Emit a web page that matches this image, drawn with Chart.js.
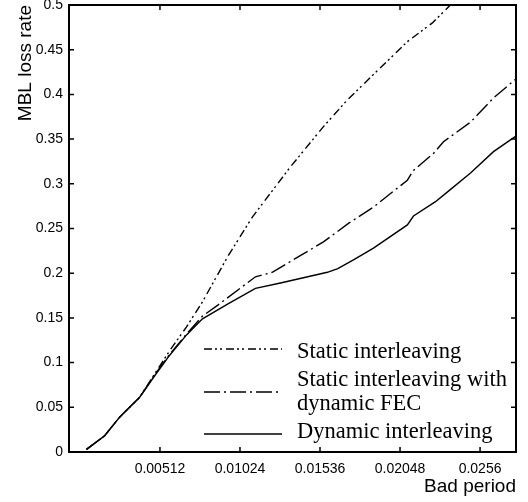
<!DOCTYPE html>
<html>
<head>
<meta charset="utf-8">
<script src="https://cdn.jsdelivr.net/npm/chart.js@4.4.1/dist/chart.umd.min.js"></script>
<style>
  html, body { margin: 0; padding: 0; background: #fff; }
  #wrap { width: 528px; height: 502px; }
</style>
</head>
<body>
<div id="wrap"><canvas id="lossChart"></canvas></div>
<script>
// bad period values where the x axis is labelled
const xTicks = [0.00512, 0.01024, 0.01536, 0.02048, 0.0256];

// static interleaving
const staticX = [0.00042, 0.00157, 0.00254, 0.00381, 0.00477, 0.00573, 0.00682, 0.00784, 0.0095, 0.01104, 0.01347, 0.01558, 0.01712, 0.01859, 0.02095, 0.02255, 0.0237];
const staticY = [0.003, 0.018, 0.039, 0.061, 0.087, 0.113, 0.14, 0.168, 0.22, 0.263, 0.319, 0.364, 0.394, 0.419, 0.459, 0.48, 0.5];

// static interleaving with dynamic FEC
const fecX = [0.00042, 0.00157, 0.00254, 0.00381, 0.00477, 0.00573, 0.00682, 0.00784, 0.0088, 0.01123, 0.0123, 0.01558, 0.0172, 0.01878, 0.02095, 0.02134, 0.02262, 0.02326, 0.02499, 0.02646, 0.02787];
const fecY = [0.003, 0.018, 0.039, 0.061, 0.086, 0.109, 0.132, 0.152, 0.164, 0.196, 0.201, 0.235, 0.256, 0.274, 0.304, 0.315, 0.334, 0.347, 0.369, 0.396, 0.417];

// dynamic interleaving
const dynX = [0.00042, 0.00157, 0.00254, 0.00381, 0.00477, 0.00573, 0.00682, 0.00784, 0.0095, 0.01123, 0.01283, 0.01583, 0.0165, 0.0175, 0.01878, 0.02095, 0.02134, 0.02275, 0.02352, 0.02499, 0.02646, 0.02787];
const dynY = [0.003, 0.018, 0.039, 0.061, 0.085, 0.108, 0.131, 0.149, 0.166, 0.183, 0.189, 0.201, 0.205, 0.215, 0.228, 0.254, 0.264, 0.28, 0.291, 0.312, 0.336, 0.353];

const toPoints = (xs, ys) => xs.map((x, i) => ({ x: x, y: ys[i] }));

// box round the plot with inward tick marks on all four sides
const frameTicks = {
  id: 'frameTicks',
  afterDatasetsDraw(chart) {
    const { ctx, chartArea: a, scales: { x, y } } = chart;
    ctx.save();
    ctx.strokeStyle = '#000';
    ctx.lineWidth = 2;
    ctx.strokeRect(a.left, a.top, a.right - a.left, a.bottom - a.top);
    ctx.lineWidth = 1.5;
    ctx.beginPath();
    x.ticks.forEach(t => {
      const px = x.getPixelForValue(t.value);
      ctx.moveTo(px, a.bottom); ctx.lineTo(px, a.bottom - 5);
      ctx.moveTo(px, a.top); ctx.lineTo(px, a.top + 5);
    });
    y.ticks.forEach(t => {
      const py = y.getPixelForValue(t.value);
      ctx.moveTo(a.left, py); ctx.lineTo(a.left + 5, py);
      ctx.moveTo(a.right, py); ctx.lineTo(a.right - 5, py);
    });
    ctx.stroke();
    ctx.restore();
  }
};

// key in the lower right corner, multi-line labels allowed
const lineKey = {
  id: 'lineKey',
  afterDraw(chart) {
    const { ctx, chartArea: a } = chart;
    const rows = [
      { line: 344, text: [353] },
      { line: 387, text: [381, 405] },
      { line: 429, text: [433] }
    ];
    ctx.save();
    ctx.font = '22.5px "Liberation Serif"';
    ctx.fillStyle = '#000';
    ctx.textBaseline = 'alphabetic';
    chart.data.datasets.forEach((ds, i) => {
      const r = rows[i];
      ctx.strokeStyle = ds.borderColor;
      ctx.lineWidth = ds.borderWidth;
      ctx.setLineDash(ds.borderDash || []);
      ctx.beginPath();
      ctx.moveTo(a.left + 135, a.top + r.line);
      ctx.lineTo(a.left + 213, a.top + r.line);
      ctx.stroke();
      const lines = [].concat(ds.label);
      lines.forEach((s, k) => ctx.fillText(s, a.left + 228, a.top + r.text[k]));
    });
    ctx.restore();
  }
};

new Chart(document.getElementById('lossChart'), {
  type: 'line',
  data: {
    datasets: [
      {
        label: 'Static interleaving',
        data: toPoints(staticX, staticY),
        borderColor: '#000',
        borderWidth: 1.4,
        borderDash: [8, 3, 2, 3, 2, 4]
      },
      {
        label: ['Static interleaving with', 'dynamic FEC'],
        data: toPoints(fecX, fecY),
        borderColor: '#000',
        borderWidth: 1.4,
        borderDash: [16, 4, 2, 4]
      },
      {
        label: 'Dynamic interleaving',
        data: toPoints(dynX, dynY),
        borderColor: '#000',
        borderWidth: 1.4
      }
    ]
  },
  options: {
    responsive: true,
    maintainAspectRatio: false,
    animation: false,
    layout: { padding: { left: 10, top: 5, right: 12, bottom: 0 } },
    elements: { point: { radius: 0 }, line: { tension: 0 } },
    plugins: { legend: { display: false }, tooltip: { enabled: false } },
    scales: {
      x: {
        type: 'linear',
        min: -0.0007,
        max: 0.0279,
        grid: { display: false, drawTicks: false },
        border: { display: false },
        afterBuildTicks: s => { s.ticks = xTicks.map(v => ({ value: v })); },
        afterFit: s => { s.height = 50; s.paddingLeft = 0; s.paddingRight = 0; },
        ticks: {
          autoSkip: false,
          maxRotation: 0,
          padding: 9,
          color: '#000',
          font: { family: '"Liberation Sans"', size: 14 },
          callback: v => String(v)
        },
        title: {
          display: true,
          text: 'Bad period',
          align: 'end',
          color: '#000',
          font: { family: '"Liberation Sans"', size: 19 }
        }
      },
      y: {
        min: 0,
        max: 0.5,
        grid: { display: false, drawTicks: false },
        border: { display: false },
        afterFit: s => { s.width = 59; s.paddingTop = 0; s.paddingBottom = 0; },
        ticks: {
          stepSize: 0.05,
          padding: 6,
          color: '#000',
          font: { family: '"Liberation Sans"', size: 14 },
          callback: v => String(+v.toFixed(2))
        },
        title: {
          display: true,
          text: 'MBL loss rate',
          align: 'end',
          color: '#000',
          font: { family: '"Liberation Sans"', size: 19 }
        }
      }
    }
  },
  plugins: [frameTicks, lineKey]
});
</script>
</body>
</html>
